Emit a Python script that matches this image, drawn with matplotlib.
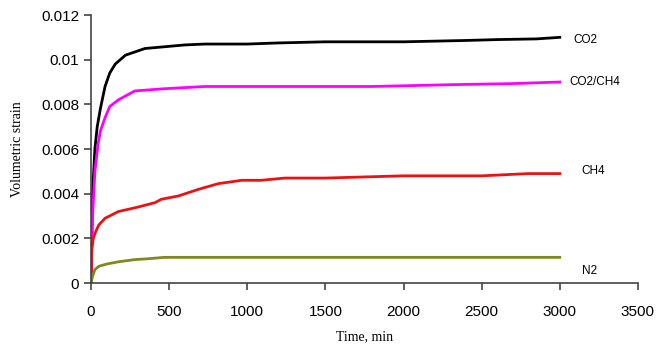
import matplotlib.pyplot as plt

# data
t_co2 = [0, 10, 25, 40, 60, 90, 120, 155, 220, 345, 600, 730, 1000, 1200, 1500, 2000, 2400, 2600, 2850, 3000]
co2 = [0, 0.0040, 0.0060, 0.0070, 0.0078, 0.0088, 0.0094, 0.0098, 0.0102, 0.0105, 0.01066, 0.0107,
       0.0107, 0.01075, 0.0108, 0.0108, 0.01086, 0.0109, 0.01093, 0.0110]

t_mix = [0, 10, 25, 45, 60, 90, 120, 175, 280, 470, 730, 1000, 1800, 2300, 2700, 3000]
co2_ch4 = [0, 0.0030, 0.0050, 0.0062, 0.0068, 0.0074, 0.0079, 0.0082, 0.0086, 0.0087, 0.0088,
           0.0088, 0.0088, 0.00888, 0.00893, 0.0090]

t_ch4 = [0, 5, 15, 30, 50, 90, 175, 300, 410, 450, 560, 690, 815, 965, 1090, 1240, 1500, 2000, 2500, 2800, 3000]
ch4 = [0, 0.0015, 0.0020, 0.0023, 0.0026, 0.0029, 0.0032, 0.0034, 0.0036, 0.00375, 0.0039, 0.0042,
       0.00445, 0.0046, 0.0046, 0.0047, 0.0047, 0.0048, 0.0048, 0.0049, 0.0049]

t_n2 = [0, 10, 25, 50, 100, 175, 280, 350, 470, 1000, 2000, 3000]
n2 = [0, 0.0003, 0.0006, 0.00075, 0.00085, 0.00095, 0.00105, 0.00108, 0.00115, 0.00115, 0.00115, 0.00115]

names = ['CO2', 'CO2/CH4', 'CH4', 'N2']
label_x = [3090, 3060, 3140, 3140]
label_y = [0.0109, 0.0090, 0.0050, 0.00055]

fig = plt.figure(figsize=(6.67, 3.49), dpi=100)
ax = fig.add_axes([0.1364, 0.189, 0.82, 0.768])

ax.plot(t_co2, co2, color='black', lw=2)
ax.plot(t_mix, co2_ch4, color='#ff00ff', lw=2)
ax.plot(t_ch4, ch4, color='#ee1111', lw=2)
ax.plot(t_n2, n2, color='#7f8a1e', lw=2)

for name, x, y in zip(names, label_x, label_y):
    ax.text(x, y, name, fontsize=8.5, family='Liberation Sans', va='center', ha='left')

ax.set_xlim(0, 3500)
ax.set_ylim(0, 0.012)
ax.set_xticks(range(0, 3501, 500))
ax.set_yticks([0, 0.002, 0.004, 0.006, 0.008, 0.01, 0.012])
ax.set_yticklabels(['0', '0.002', '0.004', '0.006', '0.008', '0.01', '0.012'])

for s in ['top', 'right']:
    ax.spines[s].set_visible(False)
for s in ['left', 'bottom']:
    ax.spines[s].set_color('#444444')
    ax.spines[s].set_linewidth(1.2)
ax.tick_params(colors='#444444', labelcolor='black', width=1.2, length=5, labelsize=11)
for lab in ax.get_xticklabels() + ax.get_yticklabels():
    lab.set_family('Liberation Sans')
ax.tick_params(axis='x', pad=11)

ax.set_xlabel('Time, min', family='Liberation Serif', fontsize=10, labelpad=8)
ax.set_ylabel('Volumetric strain', family='Liberation Serif', fontsize=10, labelpad=12)

fig.savefig('out.png', dpi=100)
